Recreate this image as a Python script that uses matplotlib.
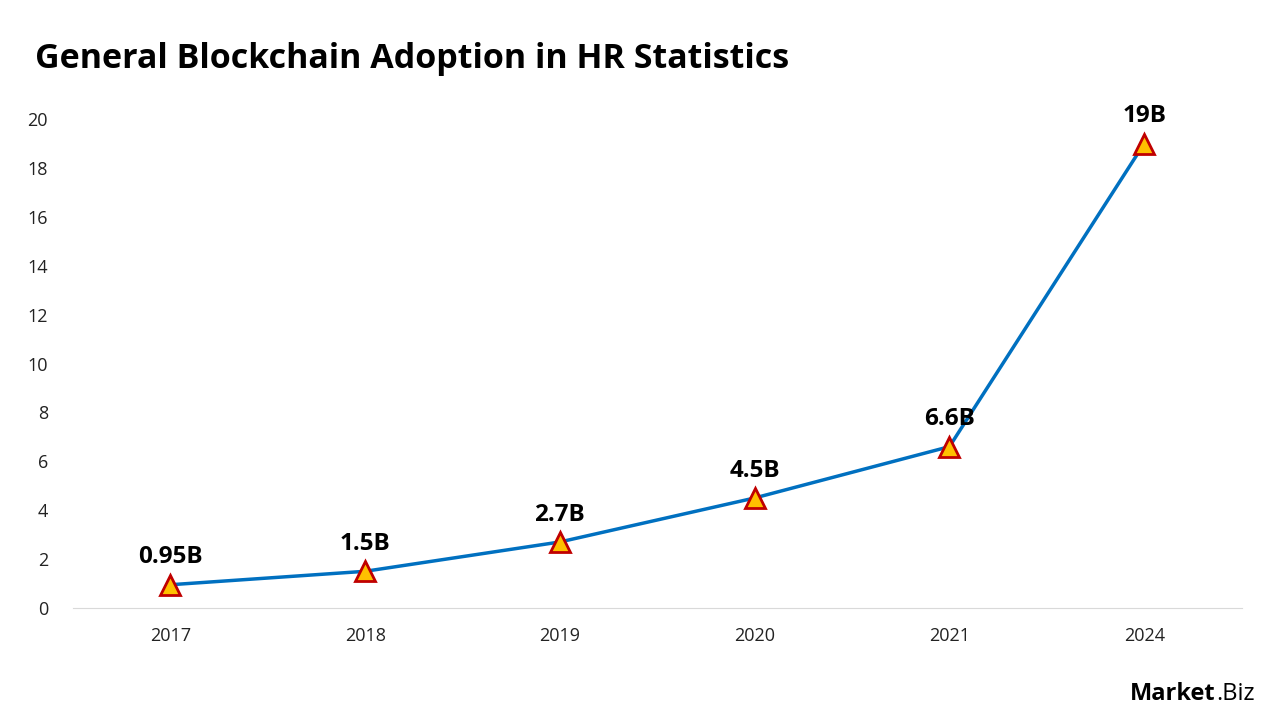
import matplotlib.pyplot as plt

years = ["2017", "2018", "2019", "2020", "2021", "2024"]
values = [0.95, 1.5, 2.7, 4.5, 6.6, 19]
labels = ["0.95B", "1.5B", "2.7B", "4.5B", "6.6B", "19B"]
yticks = [0, 2, 4, 6, 8, 10, 12, 14, 16, 18, 20]

plt.rcParams['font.family'] = ['Open Sans', 'DejaVu Sans']

fig = plt.figure(figsize=(12.8, 7.2), dpi=100)
ax = fig.add_axes([0.057, 0.1556, 0.913, 0.679])

x = list(range(len(years)))
ax.plot(x, values, color="#0070C0", lw=2.5, zorder=2)
ax.plot(x, values, ls="none", marker="^", ms=15, mfc="#FFC000", mec="#C00000",
        mew=2, zorder=3, clip_on=False)

for i, (v, t) in enumerate(zip(values, labels)):
    ax.annotate(t, (i, v), xytext=(0, 11), textcoords="offset points",
                ha="center", va="bottom", fontsize=17.5, fontweight="bold",
                annotation_clip=False)

ax.set_xlim(-0.5, 5.5)
ax.set_ylim(0, 20)
ax.set_xticks(x)
ax.set_xticklabels(years)
ax.set_yticks(yticks)
ax.tick_params(axis="both", length=0, labelsize=13, colors="#222222")
ax.tick_params(axis="x", pad=14)
ax.tick_params(axis="y", pad=18)
for s in ["top", "right", "left"]:
    ax.spines[s].set_visible(False)
ax.spines["bottom"].set_color("#d9d9d9")

fig.text(0.027, 0.918, "General Blockchain Adoption in HR Statistics",
         fontsize=24.5, fontweight="bold", ha="left", va="center")

# watermark: bold "Market" followed directly by ".Biz"
wm = fig.text(0.883, 0.036, "Market", fontsize=17, fontweight="bold",
              ha="left", va="center")
fig.canvas.draw()
bb = wm.get_window_extent().transformed(fig.transFigure.inverted())
fig.text(bb.x1, 0.036, ".Biz", fontsize=17, ha="left", va="center")

fig.savefig("out.png", dpi=100)
